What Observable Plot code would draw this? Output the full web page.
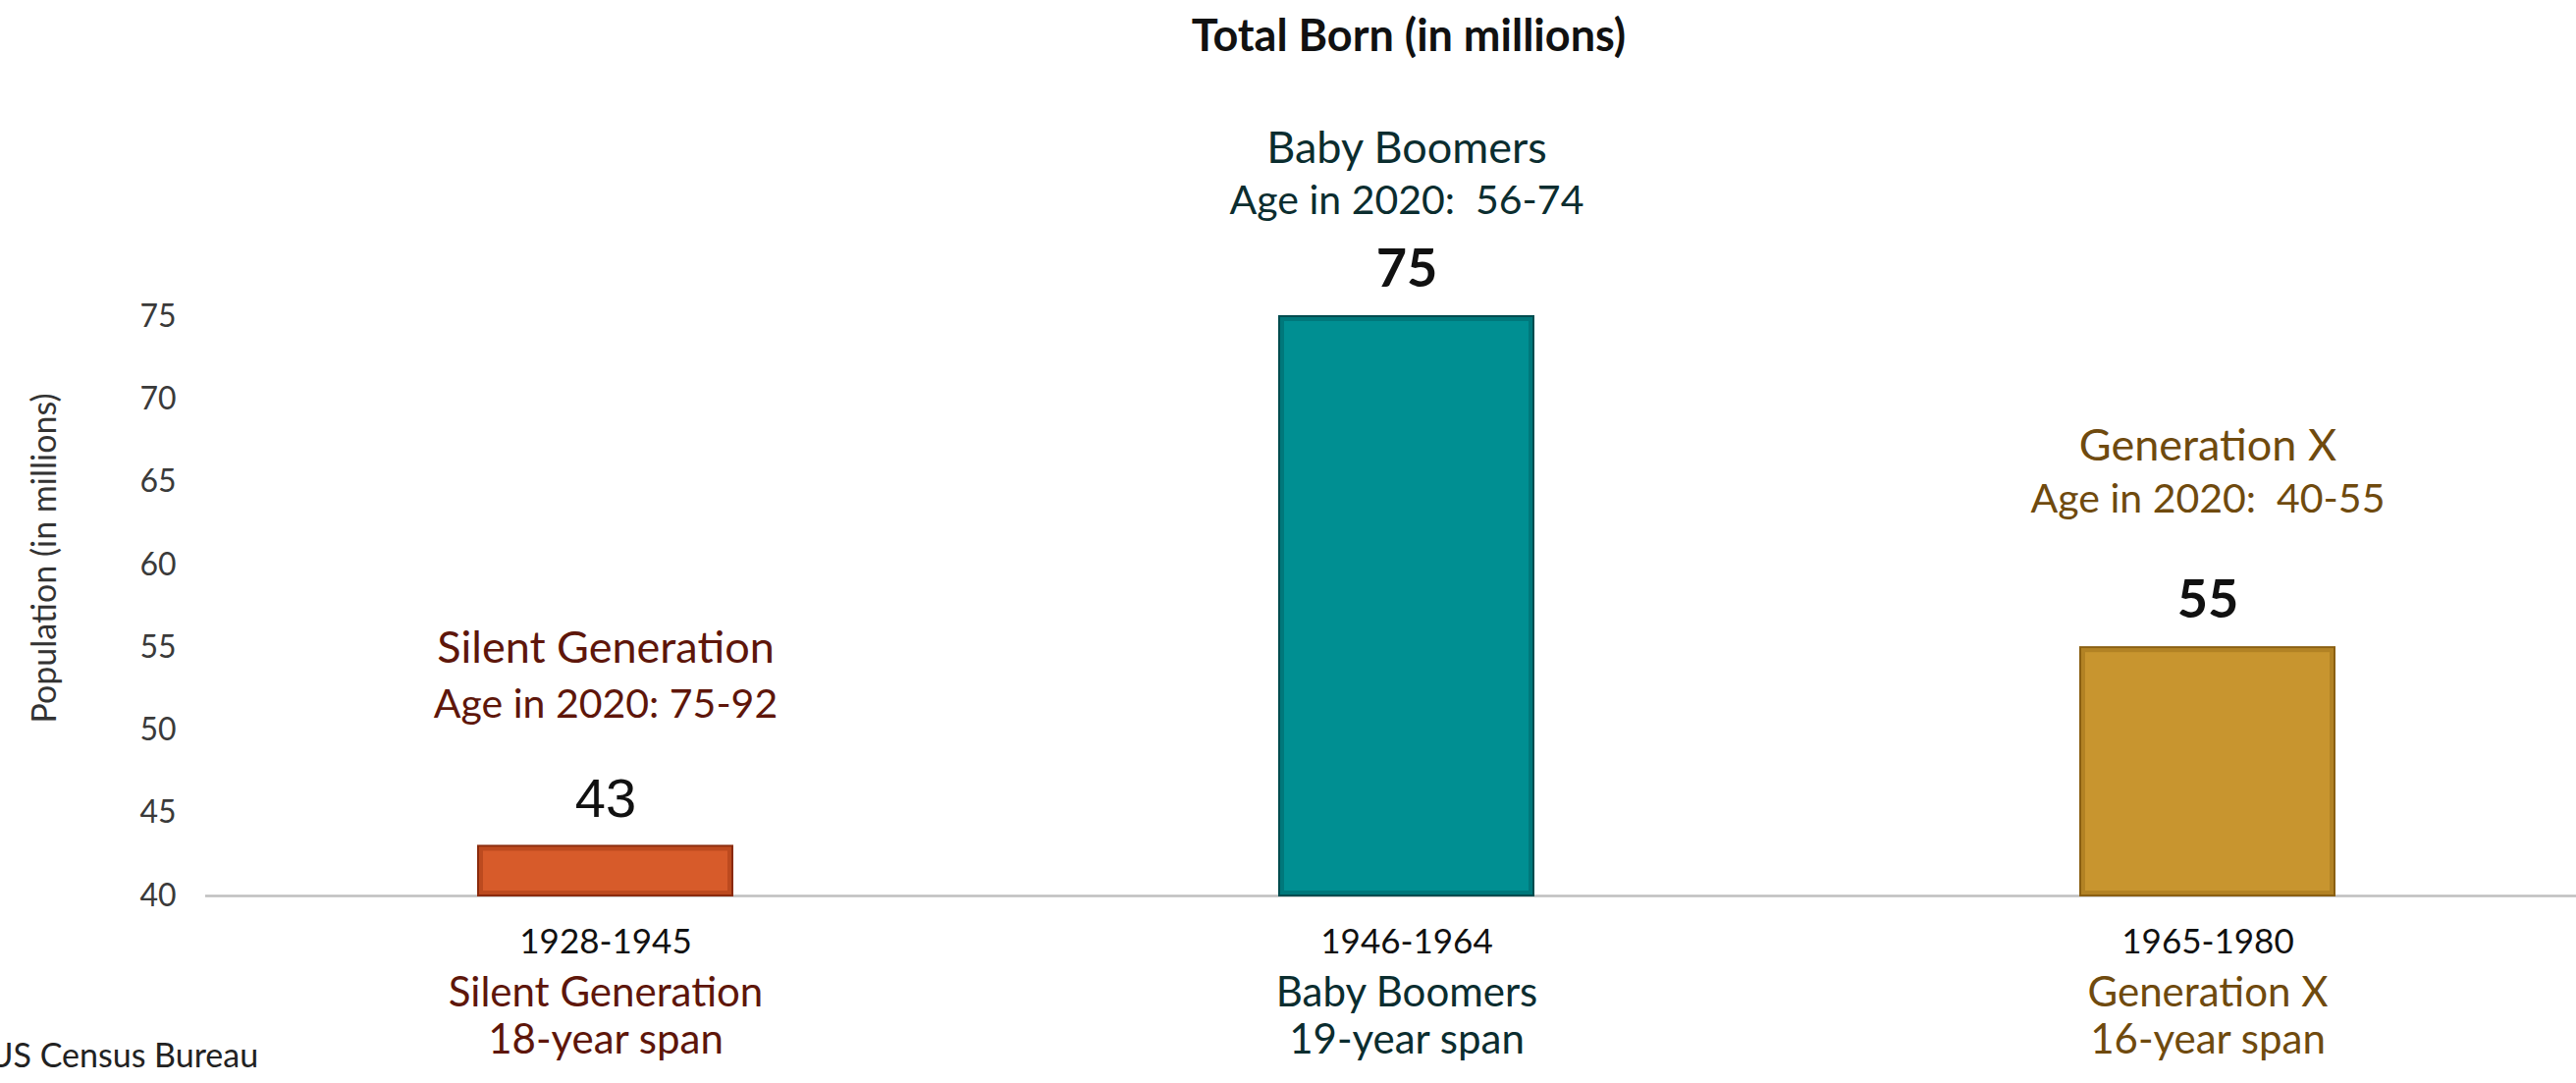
<!DOCTYPE html>
<html>
<head>
<meta charset="utf-8">
<script src="https://cdn.jsdelivr.net/npm/d3@7"></script>
<script src="https://cdn.jsdelivr.net/npm/@observablehq/plot@0.6"></script>
<style>
  html, body { margin: 0; padding: 0; background: #ffffff; }
  body { width: 2624px; height: 1103px; overflow: hidden; position: relative; font-family: Lato, "Open Sans", sans-serif; }
  #title { position: relative; height: 70px; line-height: 70px; font-size: 45px; font-weight: 700; color: #111111; }
  #title span { position: absolute; left: 1435px; transform: translateX(-50%); white-space: nowrap; }
  #chart svg text { white-space: pre; }
</style>
</head>
<body>
<div id="title"><span>Total Born (in millions)</span></div>
<div id="chart"></div>
<script>
// ---- data ----
const generations = ["Silent Generation", "Baby Boomers", "Generation X"];
const birthYears = ["1928-1945", "1946-1964", "1965-1980"];
const totalBorn = [43, 75, 55];
const ageIn2020 = ["Age in 2020: 75-92", "Age in 2020:  56-74", "Age in 2020:  40-55"];
const yearSpans = ["18-year span", "19-year span", "16-year span"];
const yTicks = [40, 45, 50, 55, 60, 65, 70, 75];
const yAxisLabel = "Population (in millions)";
const sourceNote = "US Census Bureau";

// ---- styles ----
const barFill = ["#D75B2A", "#008F92", "#C8952F"];
const barEdge = ["#8A2A0C", "#004C4F", "#8A5F12"];
const textColor = ["#5E160A", "#0B2D2F", "#6F4A0E"];
const valueFont = ["Liberation Sans", "Lato", "Lato"];
const valueWeight = [400, 700, 700];
const nameLift = [-201, -171, -205];
const ageLift = [-144, -118, -151];

const rows = generations.map((g, i) => ({
  generation: g,
  years: birthYears[i],
  value: totalBorn[i],
  age: ageIn2020[i],
  span: yearSpans[i],
  fill: barFill[i],
  edge: barEdge[i],
  ink: textColor[i]
}));

const base = yTicks[0];

const topAnnotations = rows.flatMap((r, i) => [
  Plot.text([r], {x: "generation", y: "value", text: "generation", dy: nameLift[i],
    fill: "ink", fontSize: 45, fontFamily: "Lato"}),
  Plot.text([r], {x: "generation", y: "value", text: "age", dy: ageLift[i],
    fill: "ink", fontSize: 41, fontFamily: "Lato"}),
  Plot.text([r], {x: "generation", y: "value", text: d => String(d.value), dy: -48,
    fill: "#111111", fontSize: i === 0 ? 56 : 54, fontFamily: valueFont[i], fontWeight: valueWeight[i]})
]);

const chart = Plot.plot({
  width: 2624,
  height: 1033,
  marginLeft: 209,
  marginRight: 0,
  marginTop: 252,
  marginBottom: 191,
  style: {fontFamily: "Lato", background: "#ffffff"},
  x: {domain: generations, paddingInner: 0.6826, paddingOuter: 0.321, align: 0.53, axis: null},
  y: {domain: [yTicks[0], yTicks[yTicks.length - 1]], axis: null},
  color: {type: "identity"},
  marks: [
    Plot.ruleY([base], {stroke: "#BFBFBF", strokeWidth: 2.5}),
    Plot.barY(rows, {x: "generation", y1: () => base, y2: "value", fill: "fill", stroke: "edge", strokeWidth: 2}),
    Plot.barY(rows, {x: "generation", y1: () => base, y2: "value", fill: "none", stroke: "edge", strokeOpacity: 0.35, strokeWidth: 4, inset: 3}),
    Plot.axisY({ticks: yTicks, tickSize: 0, tickPadding: 30, fontSize: 32, fill: "#3A3A3A", label: null}),
    Plot.axisX({tickSize: 0, tickPadding: 34, fontSize: 35, fill: "#111111", label: null,
      tickFormat: d => birthYears[generations.indexOf(d)]}),
    Plot.text(rows, {x: "generation", text: "generation", frameAnchor: "bottom", dy: 112,
      fill: "ink", fontSize: 42}),
    Plot.text(rows, {x: "generation", text: "span", frameAnchor: "bottom", dy: 160,
      fill: "ink", fontSize: 42}),
    ...topAnnotations,
    Plot.text([yAxisLabel], {frameAnchor: "left", textAnchor: "middle", rotate: -90, dx: -163, dy: -49,
      fontSize: 34, fill: "#333333"}),
    Plot.text([sourceNote], {frameAnchor: "bottom-left", textAnchor: "start", dx: -221, dy: 174,
      fontSize: 34, fill: "#222222"})
  ]
});

document.getElementById("chart").appendChild(chart);
</script>
</body>
</html>
